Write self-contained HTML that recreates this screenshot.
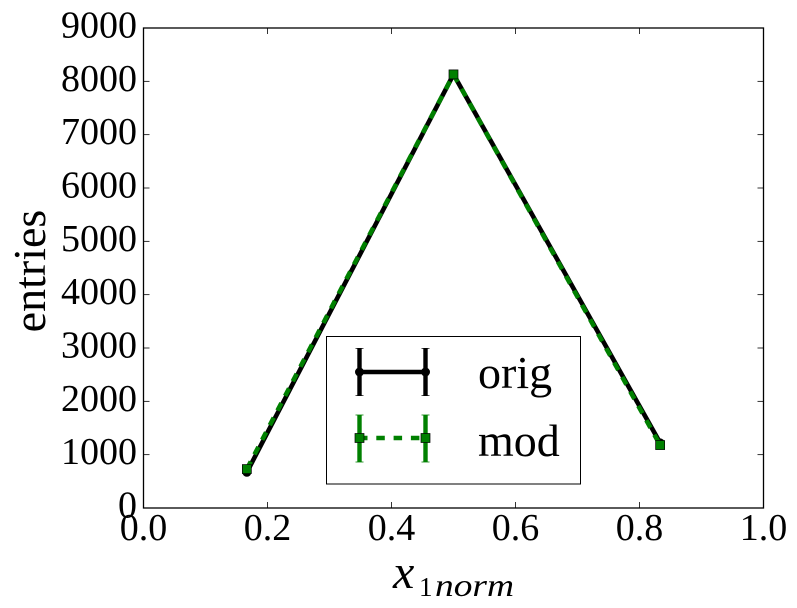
<!DOCTYPE html>
<html>
<head>
<meta charset="utf-8">
<style>
html,body{margin:0;padding:0;background:#fff;}
svg{display:block;}
text{font-family:"Liberation Serif",serif;fill:#000;}
</style>
</head>
<body>
<svg id="chart" xmlns="http://www.w3.org/2000/svg" width="797" height="608" viewBox="0 0 797 608"></svg>
<script>
const categories = [0.1667, 0.5, 0.8333];
const origValues = [670, 8130, 1220];
const modValues = [730, 8130, 1180];
const xTickValues = [0, 0.2, 0.4, 0.6, 0.8, 1];
const xTickLabels = ['0.0', '0.2', '0.4', '0.6', '0.8', '1.0'];
const yTickValues = [0, 1000, 2000, 3000, 4000, 5000, 6000, 7000, 8000, 9000];
const yTickLabels = ['0', '1000', '2000', '3000', '4000', '5000', '6000', '7000', '8000', '9000'];

const svg = document.getElementById('chart');
const NS = 'http://www.w3.org/2000/svg';
const L = 143.5, R = 763.5, T = 28, B = 508;
const xScale = v => L + v * (R - L);
const yScale = v => B - (v / 9000) * (B - T);

function mk(tag, attrs, parent) {
  const el = document.createElementNS(NS, tag);
  for (const k in attrs) el.setAttribute(k, attrs[k]);
  (parent || svg).appendChild(el);
  return el;
}

// ticks
xTickValues.forEach((v, i) => {
  const x = xScale(v);
  const t1 = mk('line', {x1: x, x2: x, y1: B, y2: B - 6, stroke: '#000', 'stroke-width': 0.8});
  
  
  const t2 = mk('line', {x1: x, x2: x, y1: T, y2: T + 6, stroke: '#000', 'stroke-width': 0.8});
  
  
  const lab = mk('text', {x: x, y: 540, 'font-size': 38, 'text-anchor': 'middle'});
  lab.textContent = xTickLabels[i];
  
  
});
yTickValues.forEach((v, i) => {
  const y = yScale(v);
  const t1 = mk('line', {x1: L, x2: L + 6, y1: y, y2: y, stroke: '#000', 'stroke-width': 0.8});
  
  
  const t2 = mk('line', {x1: R, x2: R - 6, y1: y, y2: y, stroke: '#000', 'stroke-width': 0.8});
  
  
  const lab = mk('text', {x: 137, y: y + 9.5, 'font-size': 38, 'text-anchor': 'end'});
  lab.textContent = yTickLabels[i];
  
  
});

// orig series
const origLine = mk('polyline', {
  points: categories.map((c, i) => xScale(c) + ',' + yScale(origValues[i])).join(' '),
  fill: 'none', stroke: '#000', 'stroke-width': 4.6
});


categories.forEach((c, i) => {
  const p = mk('circle', {cx: xScale(c), cy: yScale(origValues[i]), r: 4.5, fill: '#000'});
  
  
});

// mod series
const modLine = mk('polyline', {
  points: categories.map((c, i) => xScale(c) + ',' + yScale(modValues[i])).join(' '),
  fill: 'none', stroke: '#008000', 'stroke-width': 4.6, 'stroke-dasharray': '8.5 8'
});


categories.forEach((c, i) => {
  const p = mk('rect', {x: xScale(c) - 4.5, y: yScale(modValues[i]) - 4.5, width: 9, height: 9, fill: '#008000', stroke: '#000', 'stroke-width': 0.7});
  
  
});

// plot frame
const frame = mk('rect', {x: L, y: T, width: R - L, height: B - T, fill: 'none', stroke: '#000', 'stroke-width': 1.3});



// axis titles
const yTitle = mk('text', {x: 0, y: 0, 'font-size': 46, 'text-anchor': 'middle', transform: 'translate(45,271) rotate(-90)'});
yTitle.textContent = 'entries';



const xTitle = mk('text', {x: 393, y: 588, 'font-size': 48, 'font-style': 'italic'});


xTitle.textContent = 'x';
const sub1 = mk('text', {x: 419, y: 596, 'font-size': 27});
sub1.textContent = '1';


const sub2 = mk('text', {x: 435, y: 596, 'font-size': 32, 'font-style': 'italic', textLength: 79, lengthAdjust: 'spacingAndGlyphs'});
sub2.textContent = 'norm';



// legend
const lg = mk('g', {});


const lgBox = mk('rect', {x: 326.5, y: 336.5, width: 254, height: 147.5, fill: '#fff', stroke: '#000', 'stroke-width': 1}, lg);



const origKey = mk('g', {}, lg);


mk('line', {x1: 359.5, x2: 425.5, y1: 372, y2: 372, stroke: '#000', 'stroke-width': 4.4}, origKey);
[359.5, 425.5].forEach(x => {
  mk('line', {x1: x, x2: x, y1: 348, y2: 396, stroke: '#000', 'stroke-width': 4.4}, origKey);
  mk('circle', {cx: x, cy: 372, r: 4.5, fill: '#000'}, origKey);
  mk('line', {x1: x - 4, x2: x + 4, y1: 395.5, y2: 395.5, stroke: '#000', 'stroke-width': 0.7}, origKey);
  mk('line', {x1: x - 4, x2: x + 4, y1: 348.5, y2: 348.5, stroke: '#000', 'stroke-width': 0.7}, origKey);
});
const origText = mk('text', {x: 478, y: 388, 'font-size': 46}, origKey);
origText.textContent = 'orig';

const modKey = mk('g', {}, lg);


mk('line', {x1: 364, x2: 421, y1: 438, y2: 438, stroke: '#008000', 'stroke-width': 4.4, 'stroke-dasharray': '8.5 8.8', 'stroke-dashoffset': '5'}, modKey);
[359.5, 425.5].forEach(x => {
  mk('line', {x1: x, x2: x, y1: 415, y2: 462, stroke: '#008000', 'stroke-width': 4.4}, modKey);
  mk('rect', {x: x - 4.5, y: 433.5, width: 9, height: 9, fill: '#008000', stroke: '#000', 'stroke-width': 0.7}, modKey);
  mk('line', {x1: x - 4, x2: x + 4, y1: 415, y2: 415, stroke: '#008000', 'stroke-width': 0.8}, modKey);
  mk('line', {x1: x - 4, x2: x + 4, y1: 462, y2: 462, stroke: '#008000', 'stroke-width': 0.8}, modKey);
});
const modText = mk('text', {x: 478, y: 456, 'font-size': 46}, modKey);
modText.textContent = 'mod';
</script>
</body>
</html>
